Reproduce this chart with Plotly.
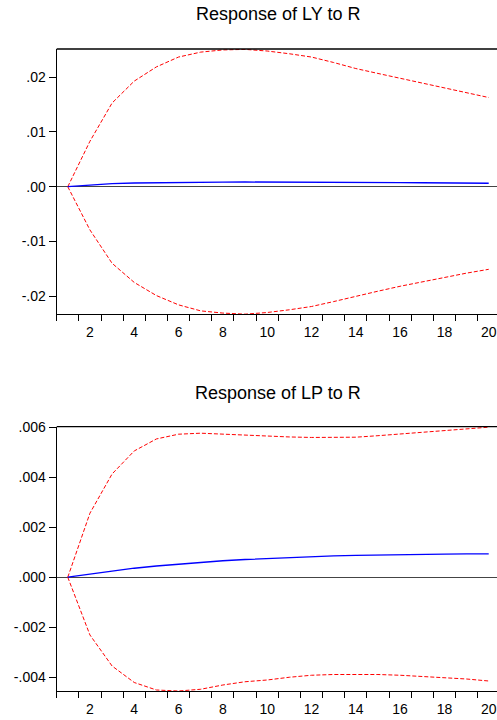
import plotly.graph_objects as go

# Impulse responses to a shock in R, periods 1..20 (point estimate and +/- 2 S.E. bands)
periods = list(range(1, 21))

ly_resp = [0.0, 0.00030, 0.00055, 0.00068, 0.00075, 0.00080, 0.00083, 0.00085, 0.00086, 0.00086,
           0.00085, 0.00084, 0.00082, 0.00080, 0.00078, 0.00075, 0.00072, 0.00069, 0.00066, 0.00063]
ly_upper = [0.0, 0.0083, 0.0153, 0.0193, 0.0219, 0.0237, 0.0246, 0.0250, 0.0251, 0.0248,
            0.0243, 0.0237, 0.0227, 0.0216, 0.0207, 0.0198, 0.0190, 0.0181, 0.0172, 0.0163]
ly_lower = [0.0, -0.0079, -0.0140, -0.0175, -0.0199, -0.0216, -0.0227, -0.0231, -0.0233, -0.0230,
            -0.0225, -0.0219, -0.0210, -0.0200, -0.0191, -0.0182, -0.0174, -0.0165, -0.0158, -0.0151]

lp_resp = [0.0, 0.00013, 0.00025, 0.00036, 0.00045, 0.00053, 0.00060, 0.00066, 0.00071, 0.00075,
           0.00079, 0.00082, 0.00085, 0.00087, 0.00089, 0.00090, 0.00091, 0.00092, 0.00093, 0.00093]
lp_upper = [0.0, 0.00256, 0.00413, 0.00505, 0.00553, 0.00572, 0.00576, 0.00572, 0.00566, 0.00564,
            0.00561, 0.00559, 0.00559, 0.00560, 0.00566, 0.00573, 0.00580, 0.00587, 0.00594, 0.00600]
lp_lower = [0.0, -0.00231, -0.00355, -0.00421, -0.00451, -0.00455, -0.00448, -0.00431, -0.00418, -0.00411,
            -0.00400, -0.00392, -0.00389, -0.00388, -0.00389, -0.00392, -0.00396, -0.00400, -0.00407, -0.00415]

x_labels = [2, 4, 6, 8, 10, 12, 14, 16, 18, 20]
ly_ticks = [0.02, 0.01, 0.0, -0.01, -0.02]
ly_ticktext = [".02", ".01", ".00", "-.01", "-.02"]
lp_ticks = [0.006, 0.004, 0.002, 0.0, -0.002, -0.004]
lp_ticktext = [".006", ".004", ".002", ".000", "-.002", "-.004"]

titles = ["Response of LY to R", "Response of LP to R"]

W, H = 497, 720
FONT = "Liberation Sans, Arial, sans-serif"
RED = "#ff0000"
BLUE = "#0000ff"

fig = go.Figure()


def add_panel(idx, resp, upper, lower):
    xa = "x" if idx == 1 else "x2"
    ya = "y" if idx == 1 else "y2"
    for band in (upper, lower):
        fig.add_trace(go.Scatter(x=periods, y=band, mode="lines", xaxis=xa, yaxis=ya,
                                 line=dict(color=RED, width=1, dash="4px,2px"),
                                 showlegend=False, hoverinfo="skip"))
    fig.add_trace(go.Scatter(x=periods, y=resp, mode="lines", xaxis=xa, yaxis=ya,
                             line=dict(color=BLUE, width=1.3),
                             showlegend=False, hoverinfo="skip"))


add_panel(1, ly_resp, ly_upper, ly_lower)
add_panel(2, lp_resp, lp_upper, lp_lower)

left = 56.7 / W
x_range = [0.5, 0.5 + 20 * (W - 56.7) / (499.8 - 56.7)]


def xaxis_cfg(anchor):
    # labels sit on whole periods; the visible ticks mark period boundaries
    return dict(domain=[left, 1.0], range=x_range, anchor=anchor, automargin=False,
                tickmode="array", tickvals=x_labels, ticktext=[str(v) for v in x_labels],
                ticks="outside", ticklen=5, tickcolor="rgba(0,0,0,0)",
                showgrid=False, zeroline=False,
                showline=True, linecolor="black", linewidth=1.3,
                tickfont=dict(family=FONT, size=14, color="black"),
                minor=dict(tick0=0.5, dtick=1, ticks="outside", ticklen=6,
                           tickcolor="black", tickwidth=1, showgrid=False))


def yaxis_cfg(anchor, domain, rng, vals, text):
    return dict(domain=domain, range=rng, anchor=anchor, automargin=False,
                tickmode="array", tickvals=vals, ticktext=text,
                ticks="outside", ticklen=7, tickcolor="black", tickwidth=1,
                showgrid=False, showline=True, linecolor="black", linewidth=1.3,
                zeroline=True, zerolinecolor="#444444", zerolinewidth=1.3,
                tickfont=dict(family=FONT, size=14, color="black"))


# top frame edge of each panel
frame_tops = [
    dict(type="line", xref="x domain", yref="y domain", x0=0, x1=1, y0=1, y1=1,
         line=dict(color="black", width=1.3), layer="above"),
    dict(type="line", xref="x2 domain", yref="y2 domain", x0=0, x1=1, y0=1, y1=1,
         line=dict(color="black", width=1.3), layer="above"),
]

fig.update_layout(
    width=W, height=H,
    margin=dict(l=0, r=0, t=0, b=0, pad=0, autoexpand=False),
    paper_bgcolor="white", plot_bgcolor="white",
    xaxis=xaxis_cfg("y"),
    yaxis=yaxis_cfg("x", [1 - 314 / H, 1 - 49 / H], [-0.02327, 0.02517], ly_ticks, ly_ticktext),
    xaxis2=xaxis_cfg("y2"),
    yaxis2=yaxis_cfg("x2", [1 - 691 / H, 1 - 426.7 / H], [-0.00455, 0.00602], lp_ticks, lp_ticktext),
    shapes=frame_tops,
    annotations=[
        dict(text=titles[0], x=278 / W, y=1 - 14 / H, xref="paper", yref="paper",
             showarrow=False, font=dict(family=FONT, size=18, color="black"),
             xanchor="center", yanchor="middle"),
        dict(text=titles[1], x=278 / W, y=1 - 393 / H, xref="paper", yref="paper",
             showarrow=False, font=dict(family=FONT, size=18, color="black"),
             xanchor="center", yanchor="middle"),
    ],
)

fig.write_html("out.html")
